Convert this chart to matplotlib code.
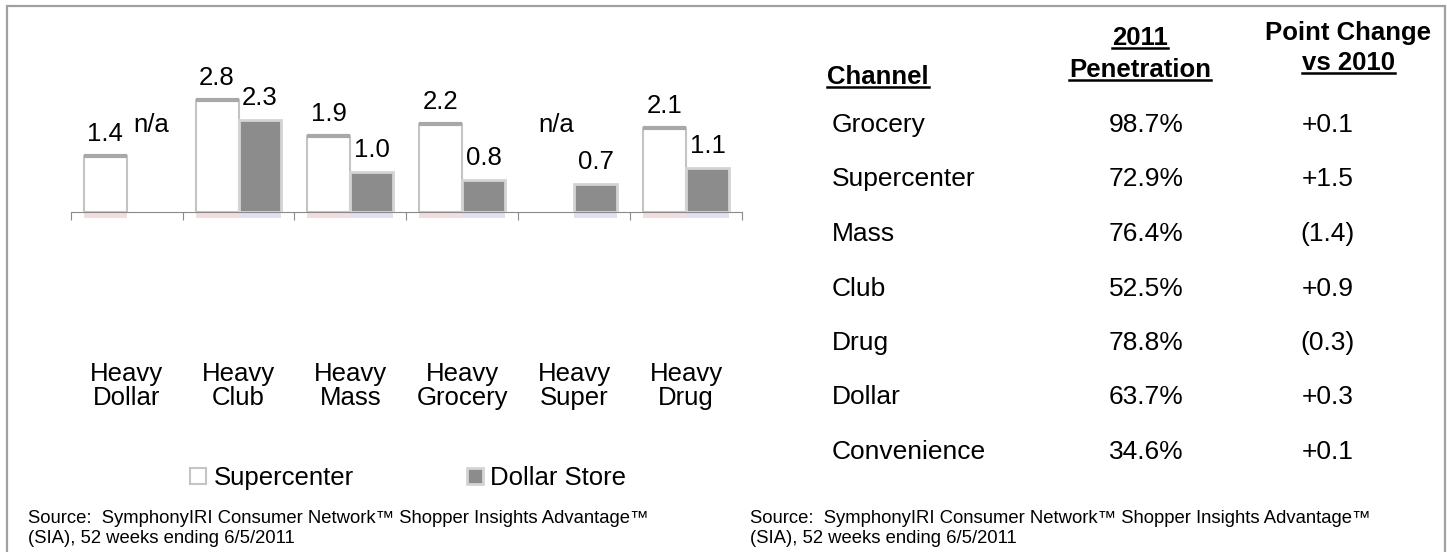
import numpy as np
import matplotlib.pyplot as plt
from matplotlib.patches import Rectangle

plt.rcParams['font.family'] = ['Liberation Sans', 'DejaVu Sans']

# bar chart data
groups = ['Heavy\nDollar', 'Heavy\nClub', 'Heavy\nMass', 'Heavy\nGrocery', 'Heavy\nSuper', 'Heavy\nDrug']
supercenter = [1.4, 2.8, 1.9, 2.2, np.nan, 2.1]
dollar_store = [np.nan, 2.3, 1.0, 0.8, 0.7, 1.1]

# table data
channels = ['Grocery', 'Supercenter', 'Mass', 'Club', 'Drug', 'Dollar', 'Convenience']
penetration = [98.7, 72.9, 76.4, 52.5, 78.8, 63.7, 34.6]
point_change = ['+0.1', '+1.5', '(1.4)', '+0.9', '(0.3)', '+0.3', '+0.1']

source = ('Source:  SymphonyIRI Consumer Network\u2122 Shopper Insights Advantage\u2122\n'
          '(SIA), 52 weeks ending 6/5/2011')

W, H = 1447, 552


def fx(x):
    return x / W


def fy(y):
    return 1 - y / H


fig = plt.figure(figsize=(W / 100, H / 100), dpi=100)

# outer frame
fig.patches.append(Rectangle((fx(7), fy(560)), fx(1445) - fx(7), fy(6) - fy(560),
                             transform=fig.transFigure, fill=False,
                             edgecolor='#a0a0a0', lw=1.6))

ax = fig.add_axes([fx(70.7), fy(212), (742 - 70.7) / W, 160 / H])
x = np.arange(len(groups))
bw = 0.384

b1 = ax.bar(x - bw / 2, supercenter, bw, color='white', edgecolor='#c4c4c4', lw=1.5,
            label='Supercenter', zorder=3)
b2 = ax.bar(x + bw / 2, dollar_store, bw, color='#8c8c8c', edgecolor='#d4d4d4', lw=2,
            label='Dollar Store', zorder=3)

# darker top edge on the white bars, faint reflection under all bars
for xi, v in zip(x - bw / 2, supercenter):
    if not np.isnan(v):
        ax.plot([xi - bw / 2, xi + bw / 2], [v, v], color='#a8a8a8', lw=3,
                solid_capstyle='butt', zorder=4)
        ax.add_patch(Rectangle((xi - bw / 2, -0.16), bw, 0.16, color='#d8a0a0',
                               alpha=0.35, lw=0, clip_on=False))
for xi, v in zip(x + bw / 2, dollar_store):
    if not np.isnan(v):
        ax.add_patch(Rectangle((xi - bw / 2, -0.16), bw, 0.16, color='#a8a8d0',
                               alpha=0.35, lw=0, clip_on=False))

for xs, vals in ((x - bw / 2, supercenter), (x + bw / 2, dollar_store)):
    for xi, v in zip(xs, vals):
        if np.isnan(v):
            ax.text(xi + 0.03, 2.0, 'n/a', ha='center', va='baseline', fontsize=18.5)
        else:
            ax.annotate('{:.1f}'.format(v), (xi, v), xytext=(0, 11), textcoords='offset points',
                        ha='center', va='baseline', fontsize=18.5)

ax.set_xlim(-0.5, len(groups) - 0.5)
ax.set_ylim(0, 4)
for s in ['top', 'right', 'left']:
    ax.spines[s].set_visible(False)
ax.spines['bottom'].set_color('#8a8a8a')
ax.set_yticks([])
ax.set_xticks(np.arange(len(groups) + 1) - 0.5)
ax.set_xticklabels([])
ax.tick_params(axis='x', length=6, color='#8a8a8a', direction='out')

# group labels well below the axis line
for xi, g in zip(x, groups):
    xd = ax.transData.transform((xi, 0))[0] / W
    fig.text(xd, fy(386), g, fontsize=18.5, ha='center', va='center', linespacing=1.05)

fig.legend(handles=[b1, b2], loc='center', bbox_to_anchor=(fx(408), fy(478)),
           ncol=2, frameon=False, fontsize=18.5, handlelength=0.62, handleheight=0.62,
           handletextpad=0.3, columnspacing=4.4)

fig.text(fx(28), fy(510), source, fontsize=13.3, ha='left', va='top', linespacing=1.25)
fig.text(fx(750), fy(510), source, fontsize=13.3, ha='left', va='top', linespacing=1.25)

# table
renderer = fig.canvas.get_renderer()


def header(xp, yp, s, ha, underline=True):
    t = fig.text(fx(xp), fy(yp), s, fontsize=18.5, fontweight='bold', ha=ha, va='baseline')
    if underline:
        bb = t.get_window_extent(renderer)
        fig.add_artist(plt.Line2D([bb.x0 / W, bb.x1 / W], [fy(yp + 3), fy(yp + 3)],
                                  transform=fig.transFigure, color='black', lw=1.8))


header(827, 84, 'Channel', 'left')
header(1140, 45, '2011', 'center')
header(1140, 77, 'Penetration', 'center')
header(1348, 40, 'Point Change', 'center', underline=False)
header(1348, 70, 'vs 2010', 'center')

row_y = 125
for i, (c, p, d) in enumerate(zip(channels, penetration, point_change)):
    yy = fy(row_y + i * 54.5)
    fig.text(fx(832), yy, c, fontsize=19, ha='left', va='center')
    fig.text(fx(1146), yy, '{:.1f}%'.format(p), fontsize=19, ha='center', va='center')
    fig.text(fx(1328), yy, d, fontsize=19, ha='center', va='center')

fig.savefig('out.png', dpi=100)
